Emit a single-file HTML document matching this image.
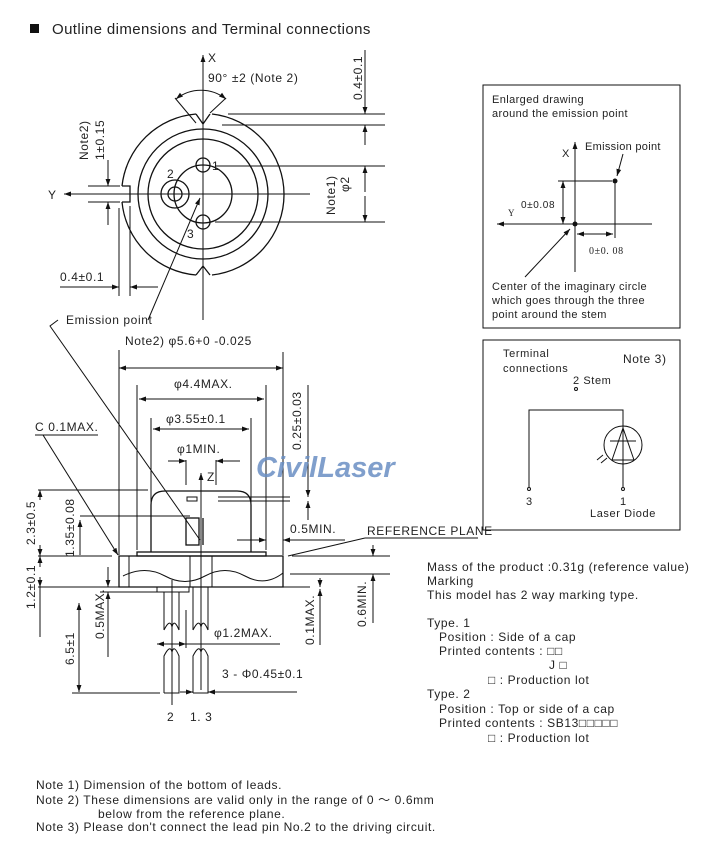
<!DOCTYPE html>
<html><head><meta charset="utf-8"><style>
html,body{margin:0;padding:0;background:#fff;}
svg{display:block;font-family:"Liberation Sans","DejaVu Sans",sans-serif;}
text{fill:#222;font-size:12px;letter-spacing:0.6px;}
.l{stroke:#111;stroke-width:1;fill:none;}
.t{stroke:#111;stroke-width:1.3;fill:none;}
</style></head><body>
<svg width="710" height="865" viewBox="0 0 710 865">
<defs><marker id="a" viewBox="0 0 10 10" refX="10" refY="5" markerWidth="7" markerHeight="7" orient="auto-start-reverse"><path d="M0,1.5 L10,5 L0,8.5z" fill="#111"/></marker></defs>
<rect x="30" y="24" width="9" height="9" fill="#111"/>
<text x="52" y="34" style="font-size:15px;letter-spacing:0.4px">Outline dimensions and Terminal connections</text>

<!-- TOP VIEW -->
<g>
<path class="t" d="M196,114 A81,81 0 0 0 122,186 M122,202 A81,81 0 0 0 196,275"/>
<path class="t" d="M212,114 A81,81 0 0 1 212,275"/>
<path class="t" d="M196,114 L203,124 L210,114 M196,275 L203,266 L210,275 M122,186 L130,186 L130,202 L122,202"/>
<circle class="t" cx="203" cy="194" r="65"/>
<circle class="t" cx="203" cy="194" r="55"/>
<circle class="t" cx="203" cy="194" r="29"/>
<circle class="t" cx="203" cy="165" r="7"/>
<circle class="t" cx="203" cy="222" r="7"/>
<circle class="t" cx="175" cy="194" r="7"/>
<circle class="t" cx="175" cy="194" r="14"/>
<line class="l" x1="203" y1="55" x2="203" y2="320" marker-start="url(#a)"/>
<line class="l" x1="310" y1="194" x2="64" y2="194" marker-end="url(#a)"/>
<text x="208" y="62">X</text><text x="48" y="199">Y</text>
<text x="208" y="82">90°  ±2 (Note 2)</text>
<path class="l" d="M176,99 A40,40 0 0 1 226,99" marker-start="url(#a)" marker-end="url(#a)"/>
<line class="l" x1="175" y1="98" x2="196" y2="123"/><line class="l" x1="226" y1="98" x2="210" y2="113"/>
<text x="212" y="170">1</text><text x="167" y="178">2</text><text x="187" y="238">3</text>
<line class="l" x1="228" y1="114" x2="385" y2="114"/><line class="l" x1="222" y1="125" x2="385" y2="125"/>
<line class="l" x1="365" y1="50" x2="365" y2="114" marker-end="url(#a)"/><line class="l" x1="365" y1="145" x2="365" y2="125" marker-end="url(#a)"/>
<text transform="translate(362,100) rotate(-90)">0.4±0.1</text>
<line class="l" x1="215" y1="166" x2="385" y2="166"/><line class="l" x1="215" y1="222" x2="385" y2="222"/>
<line class="l" x1="365" y1="192" x2="365" y2="166" marker-end="url(#a)"/><line class="l" x1="365" y1="196" x2="365" y2="222" marker-end="url(#a)"/>
<text transform="translate(335,215) rotate(-90)">Note1)</text><text transform="translate(349,192) rotate(-90)">φ2</text>
<line class="l" x1="88" y1="186" x2="120" y2="186"/><line class="l" x1="88" y1="202" x2="120" y2="202"/>
<line class="l" x1="108" y1="160" x2="108" y2="186" marker-end="url(#a)"/><line class="l" x1="108" y1="225" x2="108" y2="202" marker-end="url(#a)"/>
<text transform="translate(88,160) rotate(-90)">Note2)</text><text transform="translate(104,160) rotate(-90)">1±0.15</text>
<line class="l" x1="119" y1="208" x2="119" y2="296"/><line class="l" x1="130" y1="206" x2="130" y2="296"/>
<line class="l" x1="60" y1="287" x2="119" y2="287" marker-end="url(#a)"/><line class="l" x1="158" y1="287" x2="130" y2="287" marker-end="url(#a)"/>
<text x="60" y="281">0.4±0.1</text>
<text x="66" y="324">Emission point</text>
<line class="l" x1="148" y1="320" x2="200" y2="198" marker-end="url(#a)"/>
<path class="l" d="M58,320 L50,326 L200,540"/>
</g>

<!-- SIDE VIEW -->
<g>
<text x="125" y="345">Note2) φ5.6+0  -0.025</text>
<line class="l" x1="119" y1="350" x2="119" y2="555"/><line class="l" x1="283" y1="352" x2="283" y2="555"/>
<line class="l" x1="119" y1="368" x2="283" y2="368" marker-start="url(#a)" marker-end="url(#a)"/>
<text x="174" y="388">φ4.4MAX.</text>
<line class="l" x1="137" y1="385" x2="137" y2="550"/><line class="l" x1="266" y1="385" x2="266" y2="550"/>
<line class="l" x1="139" y1="399" x2="264" y2="399" marker-start="url(#a)" marker-end="url(#a)"/>
<text x="166" y="423">φ3.55±0.1</text>
<line class="l" x1="151" y1="418" x2="151" y2="550"/><line class="l" x1="251" y1="418" x2="251" y2="550"/>
<line class="l" x1="153" y1="429" x2="249" y2="429" marker-start="url(#a)" marker-end="url(#a)"/>
<text x="177" y="453">φ1MIN.</text>
<line class="l" x1="186" y1="460" x2="186" y2="485"/><line class="l" x1="216" y1="460" x2="216" y2="485"/>
<line class="l" x1="168" y1="461" x2="186" y2="461" marker-end="url(#a)"/><line class="l" x1="240" y1="461" x2="216" y2="461" marker-end="url(#a)"/>
<line class="l" x1="201" y1="690" x2="201" y2="473" marker-end="url(#a)"/><text x="207" y="481">Z</text>
<path class="t" d="M151,552 L151,505 Q151,491 165,491 L237,491 Q251,491 251,505 L251,552"/>
<rect class="t" x="137" y="552" width="129" height="4"/>
<rect class="l" x="187" y="497" width="10" height="4"/><line class="l" x1="218" y1="497" x2="290" y2="497"/><line class="l" x1="218" y1="501" x2="290" y2="501"/>
<rect class="t" x="186" y="518" width="13" height="27"/><line class="t" x1="203" y1="518" x2="203" y2="545"/>
<path class="t" d="M119,556 L283,556 L283,587 L119,587 Z"/>
<path class="l" d="M123,576 Q145,565 165,576 T205,576 T245,576 T283,573"/>
<line class="l" x1="129" y1="556" x2="129" y2="587"/><line class="l" x1="190" y1="556" x2="190" y2="587"/><line class="l" x1="212" y1="556" x2="212" y2="587"/>
<rect class="l" x="157" y="587" width="32" height="5"/>
<path class="l" d="M164,592 L164,630 M179,592 L179,630 M193,587 L193,630 M208,587 L208,630 M164,630 Q170,618 172,627 Q174,618 179,630 M193,630 Q199,618 201,627 Q203,618 208,630"/>
<path class="l" d="M164,693 L164,656 Q170,644 172,652 Q174,644 179,656 L179,693 L164,693 M193,693 L193,656 Q199,644 201,652 Q203,644 208,656 L208,693 L193,693"/>
<line class="l" x1="172" y1="580" x2="172" y2="705"/>
<line class="l" x1="157" y1="644" x2="186" y2="644" marker-start="url(#a)" marker-end="url(#a)"/>
<line class="l" x1="186" y1="610" x2="186" y2="648"/><line class="l" x1="186" y1="644" x2="280" y2="644"/>
<text x="214" y="637">φ1.2MAX.</text>
<line class="l" x1="180" y1="692" x2="193" y2="692" marker-end="url(#a)"/><line class="l" x1="297" y1="692" x2="208" y2="692" marker-end="url(#a)"/>
<text x="222" y="678">3 - Φ0.45±0.1</text>
<text x="167" y="721">2</text><text x="190" y="721">1.  3</text>
<line class="l" x1="38" y1="490" x2="148" y2="490"/><line class="l" x1="38" y1="556" x2="112" y2="556"/>
<line class="l" x1="38" y1="587" x2="152" y2="587"/><line class="l" x1="72" y1="693" x2="160" y2="693"/>
<line class="l" x1="40" y1="500" x2="40" y2="490" marker-end="url(#a)"/><line class="l" x1="40" y1="545" x2="40" y2="556" marker-end="url(#a)"/>
<text transform="translate(35,545) rotate(-90)">2.3±0.5</text>
<line class="l" x1="40" y1="567" x2="40" y2="556" marker-end="url(#a)"/><line class="l" x1="40" y1="577" x2="40" y2="587" marker-end="url(#a)"/><line class="l" x1="40" y1="587" x2="40" y2="637"/>
<text transform="translate(35,609) rotate(-90)">1.2±0.1</text>
<line class="l" x1="80" y1="516" x2="190" y2="516"/>
<line class="l" x1="80" y1="520" x2="80" y2="555" marker-start="url(#a)"/>
<text transform="translate(74,557) rotate(-90)">1.35±0.08</text>
<line class="l" x1="79" y1="603" x2="79" y2="692" marker-start="url(#a)" marker-end="url(#a)"/>
<text transform="translate(74,665) rotate(-90)">6.5±1</text>
<line class="l" x1="108" y1="567" x2="108" y2="587" marker-end="url(#a)"/><line class="l" x1="108" y1="606" x2="108" y2="592" marker-end="url(#a)"/><line class="l" x1="108" y1="606" x2="108" y2="657"/>
<line class="l" x1="100" y1="592" x2="157" y2="592"/>
<text transform="translate(104,639) rotate(-90)">0.5MAX.</text>
<text x="35" y="431">C  0.1MAX.</text><line class="l" x1="35" y1="435" x2="98" y2="435"/>
<line class="l" x1="43" y1="435" x2="118" y2="555" marker-end="url(#a)"/>
<line class="l" x1="308" y1="385" x2="308" y2="497" /><line class="l" x1="308" y1="520" x2="308" y2="501" marker-end="url(#a)"/><line class="l" x1="308" y1="485" x2="308" y2="497" marker-end="url(#a)"/>
<text transform="translate(301,450) rotate(-90)">0.25±0.03</text>
<line class="l" x1="237" y1="540" x2="266" y2="540" marker-end="url(#a)"/><line class="l" x1="345" y1="540" x2="283" y2="540" marker-end="url(#a)"/>
<text x="290" y="533">0.5MIN.</text>
<text x="367" y="535">REFERENCE PLANE</text>
<line class="l" x1="365" y1="538" x2="478" y2="538"/><line class="l" x1="365" y1="538" x2="288" y2="556"/>
<line class="l" x1="292" y1="556" x2="390" y2="556"/><line class="l" x1="290" y1="574" x2="390" y2="574"/>
<line class="l" x1="373" y1="545" x2="373" y2="556" marker-end="url(#a)"/><line class="l" x1="373" y1="585" x2="373" y2="574" marker-end="url(#a)"/><line class="l" x1="373" y1="585" x2="373" y2="623"/>
<text transform="translate(366,627) rotate(-90)">0.6MIN.</text>
<line class="l" x1="255" y1="587" x2="310" y2="587"/>
<line class="l" x1="320" y1="578" x2="320" y2="587" marker-end="url(#a)"/><line class="l" x1="320" y1="600" x2="320" y2="589" marker-end="url(#a)"/><line class="l" x1="320" y1="600" x2="320" y2="645"/>
<text transform="translate(314,645) rotate(-90)">0.1MAX.</text>
</g>
<text x="256" y="477" style="font-size:29px;font-weight:bold;font-style:italic;fill:#6b8fc4;opacity:.85;letter-spacing:0">CivilLaser</text>

<!-- Box 1 -->
<rect class="l" x="483" y="85" width="197" height="243"/>
<g style="font-size:11px">
<text x="492" y="103" style="font-size:11px;letter-spacing:0.4px">Enlarged drawing</text>
<text x="492" y="117" style="font-size:11px;letter-spacing:0.4px">around the emission point</text>
<text x="562" y="157" style="font-size:11px">X</text>
<text x="585" y="150" style="font-size:11px;letter-spacing:0.3px">Emission point</text>
<text x="492" y="290" style="font-size:11px;letter-spacing:0.4px">Center of the imaginary circle</text>
<text x="492" y="304" style="font-size:11px;letter-spacing:0.4px">which goes through the three</text>
<text x="492" y="318" style="font-size:11px;letter-spacing:0.4px">point around the stem</text>
</g>
<line class="l" x1="575" y1="272" x2="575" y2="142" marker-end="url(#a)"/>
<line class="l" x1="652" y1="224" x2="497" y2="224" marker-end="url(#a)"/><text x="508" y="216" style="font-size:9px;font-family:'Liberation Serif',serif">Y</text>
<circle cx="575" cy="224" r="2.5" fill="#111"/><circle cx="615" cy="181" r="2.5" fill="#111"/>
<line class="l" x1="558" y1="181" x2="612" y2="181"/><line class="l" x1="615" y1="181" x2="615" y2="238"/>
<line class="l" x1="563" y1="181" x2="563" y2="224" marker-start="url(#a)" marker-end="url(#a)"/>
<text x="521" y="208" style="font-size:10px">0±0.08</text>
<line class="l" x1="577" y1="234" x2="613" y2="234" marker-start="url(#a)" marker-end="url(#a)"/>
<text x="589" y="254" style="font-size:10px;font-family:'Liberation Serif',serif">0±0. 08</text>
<line class="l" x1="623" y1="154" x2="617" y2="176" marker-end="url(#a)"/>
<line class="l" x1="525" y1="277" x2="570" y2="229" marker-end="url(#a)"/>

<!-- Box 2 -->
<rect class="l" x="483" y="340" width="197" height="190"/>
<text x="503" y="357" style="font-size:11px">Terminal</text><text x="503" y="372" style="font-size:11px">connections</text>
<text x="623" y="363">Note 3)</text>
<text x="573" y="384" style="font-size:11px">2  Stem</text><circle class="l" cx="576" cy="389" r="1.5"/>
<path class="l" d="M529,487 L529,410 L623,410 L623,487"/>
<circle class="l" cx="529" cy="489" r="1.5"/><circle class="l" cx="623" cy="489" r="1.5"/>
<circle class="l" cx="623" cy="445" r="19"/>
<path class="l" d="M612,460 L623,428 L634,460 M610,441 L636,441 M612,460 L634,460"/>
<path class="l" d="M603,455 L597,460 M607,458 L601,463"/>
<text x="526" y="505" style="font-size:11px">3</text><text x="620" y="505" style="font-size:11px">1</text>
<text x="590" y="517" style="font-size:11px">Laser Diode</text>

<g>
<text x="427" y="571">Mass of the product :0.31g (reference value)</text>
<text x="427" y="585">Marking</text>
<text x="427" y="599">This model has 2 way marking type.</text>
<text x="427" y="627">Type. 1</text>
<text x="439" y="641">Position : Side of a cap</text>
<text x="439" y="655">Printed contents : □□</text>
<text x="549" y="669">J □</text>
<text x="488" y="684">□ :  Production lot</text>
<text x="427" y="698">Type. 2</text>
<text x="439" y="713">Position : Top or side of a cap</text>
<text x="439" y="727">Printed contents :  SB13□□□□□</text>
<text x="488" y="742">□ :  Production lot</text>
</g>
<g>
<text x="36" y="789">Note 1) Dimension of the bottom of leads.</text>
<text x="36" y="804">Note 2) These dimensions are valid only in the range of 0 ～ 0.6mm</text>
<text x="98" y="818">below from the reference plane.</text>
<text x="36" y="831">Note 3) Please don't connect the lead pin No.2 to the driving circuit.</text>
</g>
</svg>
</body></html>
